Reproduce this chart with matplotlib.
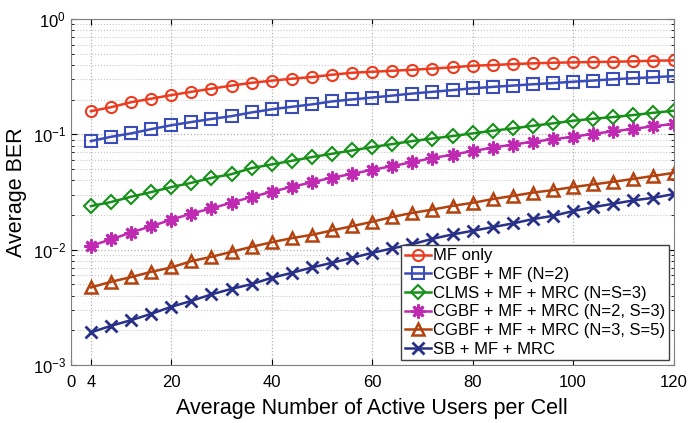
import matplotlib
matplotlib.use("Agg")
import matplotlib.pyplot as plt
import numpy as np

plt.rcParams['font.family'] = ['Liberation Sans', 'DejaVu Sans']
plt.rcParams['mathtext.fontset'] = 'custom'
plt.rcParams['mathtext.rm'] = 'Liberation Sans'

# average number of active users per cell
users = list(range(4, 121, 4))

mf_only = [0.159, 0.172, 0.190, 0.204, 0.219, 0.234, 0.249, 0.265, 0.280, 0.292,
           0.304, 0.314, 0.329, 0.342, 0.349, 0.356, 0.363, 0.372, 0.381, 0.394,
           0.399, 0.407, 0.413, 0.418, 0.421, 0.424, 0.426, 0.430, 0.435, 0.438]
cgbf_mf = [0.0875, 0.0953, 0.102, 0.111, 0.120, 0.128, 0.136, 0.144, 0.155, 0.165,
           0.1735, 0.182, 0.193, 0.201, 0.2085, 0.217, 0.226, 0.234, 0.242, 0.251,
           0.258, 0.265, 0.272, 0.2785, 0.286, 0.293, 0.3005, 0.307, 0.313, 0.320]
clms = [0.0239, 0.0259, 0.0288, 0.0316, 0.0349, 0.0380, 0.0420, 0.0452, 0.0510, 0.0549,
        0.0590, 0.0636, 0.0679, 0.0726, 0.0776, 0.0824, 0.0875, 0.0920, 0.0967, 0.102,
        0.1075, 0.1127, 0.1187, 0.1246, 0.1312, 0.1366, 0.1413, 0.1471, 0.1539, 0.1602]
cgbf_23 = [0.0108, 0.0123, 0.0141, 0.0160, 0.0182, 0.0206, 0.0228, 0.0256, 0.0287, 0.0318,
           0.0351, 0.0384, 0.0422, 0.0454, 0.0493, 0.0531, 0.0575, 0.0623, 0.0668, 0.0716,
           0.0768, 0.0816, 0.0863, 0.0907, 0.0953, 0.1012, 0.1062, 0.1118, 0.1175, 0.1234]
cgbf_35 = [0.00471, 0.00527, 0.00579, 0.00643, 0.00702, 0.00796, 0.00868, 0.00959, 0.0106, 0.0116,
           0.0126, 0.01346, 0.0147, 0.0160, 0.01746, 0.01925, 0.02085, 0.02227, 0.0240, 0.0255,
           0.02747, 0.02928, 0.03127, 0.03287, 0.0349, 0.03684, 0.03881, 0.04111, 0.04365, 0.04635]
sb = [0.00192, 0.00219, 0.00245, 0.00278, 0.0032, 0.0036, 0.0041, 0.00458, 0.00503, 0.00571,
      0.0063, 0.00702, 0.0077, 0.0085, 0.0094, 0.01026, 0.01118, 0.01243, 0.01357, 0.01458,
      0.0157, 0.0169, 0.01842, 0.01968, 0.02163, 0.02342, 0.02501, 0.02677, 0.02819, 0.03035]

labels = ['MF only', 'CGBF + MF (N=2)', 'CLMS + MF + MRC (N=S=3)',
          'CGBF + MF + MRC (N=2, S=3)', 'CGBF + MF + MRC (N=3, S=5)', 'SB + MF + MRC']

fig = plt.figure(figsize=(6.88, 4.23), dpi=100)
ax = fig.add_axes([0.103, 0.137, 0.876, 0.818])

ax.plot(users, mf_only, '-o', color='#ec3b1e', mfc='none', mew=1.5, ms=8, lw=1.8, label=labels[0])
ax.plot(users, cgbf_mf, '-s', color='#3a4cb8', mfc='none', mew=1.5, ms=8, lw=1.8, label=labels[1])
ax.plot(users, clms, '-D', color='#17901a', mfc='none', mew=1.5, ms=7, lw=1.8, label=labels[2])
ax.plot(users, cgbf_23, '-', marker=(8, 2, 0), color='#c02ab2', mew=2, ms=10, lw=1.8, label=labels[3])
ax.plot(users, cgbf_35, '-^', color='#b3420e', mfc='none', mew=1.8, ms=8, lw=1.8, label=labels[4])
ax.plot(users, sb, '-x', color='#283088', mew=2, ms=8, lw=1.8, label=labels[5])

ax.set_yscale('log')
ax.set_xlim(0, 120)
ax.set_ylim(1e-3, 1)
ax.set_xticks([0, 4, 20, 40, 60, 80, 100, 120])
ax.tick_params(which='both', direction='in', top=True, right=True, labelsize=12)
ax.tick_params(axis='x', pad=7)
ax.tick_params(which='major', length=4)
ax.tick_params(which='minor', length=2)
ax.grid(True, which='major', linestyle=':', color='#b0b0b0', lw=0.9)
ax.grid(True, which='minor', axis='y', linestyle=':', color='#c8c8c8', lw=0.8)
for s in ax.spines.values():
    s.set_color('#808080')

ax.set_xlabel('Average Number of Active Users per Cell', fontsize=15.5, labelpad=6)
ax.set_ylabel('Average BER', fontsize=15.5)

leg = ax.legend(loc='lower right', fontsize=12, handlelength=1.6, handletextpad=0.1,
                borderpad=0.2, labelspacing=0.22, borderaxespad=0.3, fancybox=False,
                framealpha=1)
leg.get_frame().set_edgecolor('#404040')
leg.get_frame().set_linewidth(1)

fig.savefig('out.png', dpi=100)
